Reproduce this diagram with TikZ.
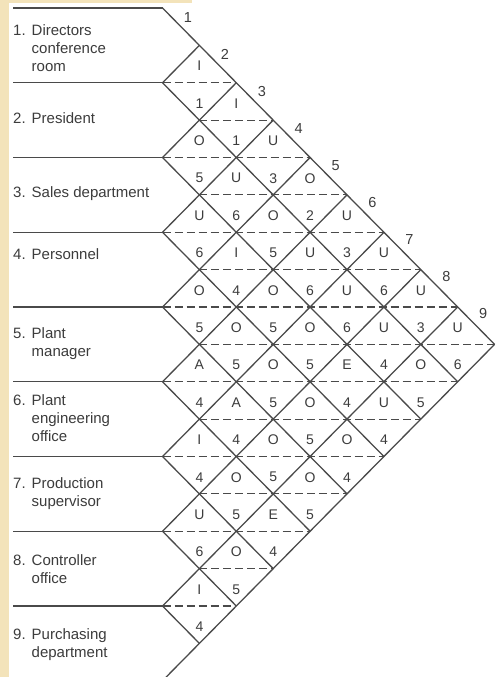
\documentclass[tikz,border=0pt]{standalone}
\usepackage{fontspec}
\setmainfont{Liberation Sans}
\definecolor{inkgray}{HTML}{3C3C3C}
\definecolor{rulegray}{HTML}{4A4A4A}
\definecolor{edgetan}{HTML}{F3E3BA}
\tikzset{
  solidrule/.style={draw=rulegray, line width=1.3pt},
  dashrule/.style={draw=rulegray, line width=1.2pt, dash pattern=on 8pt off 4pt},
  cellcode/.style={text=inkgray, font=\fontsize{14}{16}\selectfont, inner sep=0pt},
  colnum/.style={text=inkgray, font=\fontsize{14.5}{16}\selectfont, inner sep=0pt},
  deptlabel/.style={anchor=west, text=inkgray, font=\fontsize{15}{18}\selectfont, inner sep=0pt},
}
\newcommand{\dept}[2]{\begin{tabular}{@{}l@{\hspace{6pt}}l@{}}#1.&#2\end{tabular}}

\begin{document}
\begin{tikzpicture}[x=1pt, y=-1pt]
  \def\xo{162.5} \def\yo{8} \def\hx{36.9} \def\hy{37.375}
  \fill[white] (0,0) rectangle (496,677);
  \fill[edgetan] (0,0) rectangle (9,677);
  \fill[edgetan] (0,0) rectangle (192,3);
  \useasboundingbox (0,0) rectangle (496,677);
  \clip (0,0) rectangle (496,677);

  % rules between departments
  \foreach \k in {0,...,8}
    \draw[solidrule] (13,{\yo+2*\k*\hy}) -- (\xo,{\yo+2*\k*\hy});
  % diagonals of the chart
  \foreach \k in {0,...,8}
    \draw[solidrule] (\xo,{\yo+2*\k*\hy}) -- ++({(9-\k)*\hx},{(9-\k)*\hy});
  \foreach \k in {1,...,9}
    \draw[solidrule] (\xo,{\yo+2*\k*\hy}) -- ++({\k*\hx},{-\k*\hy});
  % dashed splits of the diamonds
  \foreach \j in {2,...,16} {
    \pgfmathsetmacro\xa{\xo+mod(\j,2)*\hx}
    \pgfmathsetmacro\xb{\xo+min(\j,18-\j)*\hx}
    \draw[dashrule] (\xa,{\yo+\j*\hy}) -- (\xb,{\yo+\j*\hy});
  }

  % closeness codes and reasons
  \foreach \codes [count=\s] in {{I},{1,I},{O,1,U},{5,U,3,O},{U,6,O,2,U},
      {6,I,5,U,3,U},{O,4,O,6,U,6,U},{5,O,5,O,6,U,3,U},{A,5,O,5,E,4,O,6},
      {4,A,5,O,4,U,5},{I,4,O,5,O,4},{4,O,5,O,4},{U,5,E,5},{6,O,4},{I,5},{4}}
    \foreach \c [count=\m] in \codes
      \node[cellcode] (c\s-\m) at ({\xo+\m*\hx},{\yo+(2*\s+1)*\hy/2+2}) {\c};

  % numbers along the top edge
  \foreach \k in {1,...,9}
    \node[colnum] (n\k) at ({\xo+25.5+(\k-1)*\hx},{\yo+10+(\k-1)*\hx}) {\k};

  % departments
  \node[deptlabel] (r1) at (13,50)  {\dept{1}{Directors\\&conference\\&room}};
  \node[deptlabel] (r2) at (13,120) {\dept{2}{President}};
  \node[deptlabel] (r3) at (13,194) {\dept{3}{Sales department}};
  \node[deptlabel] (r4) at (13,256) {\dept{4}{Personnel}};
  \node[deptlabel] (r5) at (13,344) {\dept{5}{Plant\\&manager}};
  \node[deptlabel] (r6) at (13,420) {\dept{6}{Plant\\&engineering\\&office}};
  \node[deptlabel] (r7) at (13,494) {\dept{7}{Production\\&supervisor}};
  \node[deptlabel] (r8) at (13,571) {\dept{8}{Controller\\&office}};
  \node[deptlabel] (r9) at (13,645) {\dept{9}{Purchasing\\&department}};
\end{tikzpicture}
\end{document}
